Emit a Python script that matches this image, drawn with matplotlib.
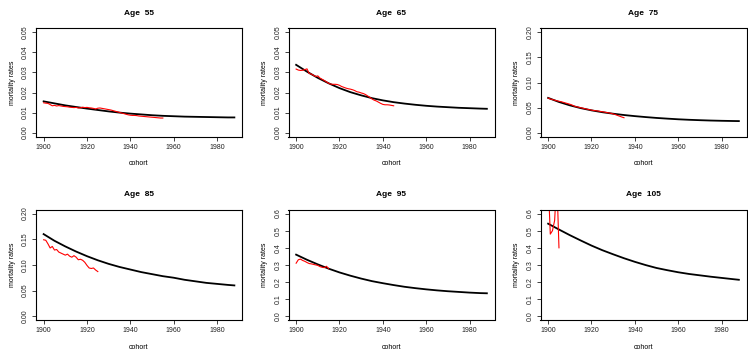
import numpy as np
import matplotlib
matplotlib.use("Agg")
import matplotlib.pyplot as plt

plt.rcParams['font.family'] = ['Liberation Sans', 'DejaVu Sans']

# Datos
ages = [55, 65, 75, 85, 95, 105]

# curva ajustada (negra)
fit_years = [1900, 1905, 1910, 1915, 1920, 1925, 1930, 1935, 1940, 1945,
             1950, 1955, 1960, 1965, 1970, 1975, 1980, 1985, 1988]
fit_55 = [.0156, .0146, .0136, .0128, .0120, .0113, .0106, .0100, .0095, .0091,
          .0087, .0084, .0082, .0080, .0079, .0078, .0077, .0076, .0076]
fit_65 = [.0338, .0304, .0273, .0246, .0222, .0202, .0186, .0172, .0161, .0152,
          .0145, .0139, .0134, .0130, .0127, .0124, .0122, .0120, .0119]
fit_75 = [.0693, .0612, .0545, .0490, .0445, .0408, .0378, .0352, .0330, .0311,
          .0294, .0280, .0267, .0257, .0249, .0242, .0237, .0233, .0231]
fit_85 = [.160, .147, .136, .126, .117, .109, .102, .096, .091, .086,
          .082, .078, .075, .071, .068, .065, .063, .061, .060]
fit_95 = [.360, .330, .303, .278, .256, .237, .220, .205, .193, .182,
          .172, .164, .157, .151, .146, .142, .138, .135, .134]
fit_105 = [.541, .507, .474, .443, .413, .386, .362, .339, .318, .299,
           .282, .269, .257, .247, .239, .231, .224, .217, .213]

# tasas observadas (rojo), una por anio desde 1900
obs_55 = [.0149, .0147, .0146, .0140, .0134, .0136, .0133, .0135, .0133, .0131,
          .0130, .0129, .0127, .0126, .0125, .0126, .0123, .0124, .0127, .0125,
          .0126, .0124, .0123, .0121, .0118, .0122, .0123, .0121, .0119, .0117,
          .0115, .0113, .0110, .0107, .0104, .0101, .0098, .0095, .0092, .0089,
          .0087, .0086, .0086, .0085, .0083, .0082, .0081, .0080, .0079, .0078,
          .0077, .0076, .0075, .0074, .0073, .0073]
obs_65 = [.0317, .0312, .0310, .0311, .0314, .0318, .0295, .0292, .0286, .0280,
          .0283, .0272, .0266, .0260, .0253, .0246, .0242, .0241, .0241, .0240,
          .0236, .0230, .0226, .0222, .0219, .0217, .0214, .0210, .0204, .0202,
          .0198, .0195, .0190, .0183, .0176, .0168, .0162, .0158, .0152, .0146,
          .0141, .0139, .0139, .0138, .0136, .0134]
obs_75 = [.0690, .0672, .0660, .0648, .0636, .0626, .0618, .0605, .0592, .0580,
          .0567, .0552, .0530, .0518, .0508, .0498, .0488, .0478, .0468, .0458,
          .0450, .0442, .0438, .0432, .0424, .0418, .0410, .0402, .0394, .0386,
          .0374, .0360, .0344, .0328, .0312, .0298]
obs_85 = [.149, .148, .141, .133, .136, .129, .130, .125, .123, .121,
          .119, .121, .117, .115, .118, .115, .110, .111, .109, .105,
          .099, .094, .093, .094, .090, .087]
obs_95 = [.310, .330, .334, .326, .321, .314, .308, .306, .303, .300,
          .297, .290, .286, .284, .292, .278]
obs_105 = [.80, .48, .50, .56, .80, .40]

fits = [fit_55, fit_65, fit_75, fit_85, fit_95, fit_105]
obs = [obs_55, obs_65, obs_75, obs_85, obs_95, obs_105]

x_ticks = [1900, 1920, 1940, 1960, 1980]
y_ticks = [[0, .01, .02, .03, .04, .05], [0, .01, .02, .03, .04, .05],
           [0, .05, .10, .15, .20], [0, .05, .10, .15, .20],
           [0, .1, .2, .3, .4, .5, .6], [0, .1, .2, .3, .4, .5, .6]]
y_fmt = ["%.2f", "%.2f", "%.2f", "%.2f", "%.1f", "%.1f"]

W, H = 748, 350
fig = plt.figure(figsize=(W / 100, H / 100), dpi=100)

lefts = [36, 288.5, 540.5]
rows = [(28.3, 136.7), (209.5, 320.3)]
box_w = 206

for i, age in enumerate(ages):
    r, c = divmod(i, 3)
    top, bot = rows[r]
    h = bot - top
    ax = fig.add_axes([lefts[c] / W, 1 - bot / H, box_w / W, h / H])

    ax.plot(fit_years, fits[i], color='black', lw=1.3)
    yrs = np.arange(1900, 1900 + len(obs[i]))
    ax.plot(yrs, obs[i], color='red', lw=0.8)

    # rangos como en R (4% extra)
    ymax = y_ticks[i][-1]
    ax.set_xlim(1896.48, 1991.52)
    ax.set_ylim(-0.04 * ymax, 1.04 * ymax)
    ax.set_xticks(x_ticks)
    ax.set_yticks(y_ticks[i])
    ax.set_yticklabels([y_fmt[i] % v for v in y_ticks[i]], rotation=90, va='center')
    ax.tick_params(length=2.9, width=0.6, pad=2.0, labelsize=5.0, colors='#222222')
    for s in ax.spines.values():
        s.set_linewidth(0.8)

    ax.text(0.5, 1 + 14.8 / h, "Age  %d" % age, transform=ax.transAxes,
            ha='center', va='center', fontsize=6.0, fontweight='bold')
    ax.text(0.5, -27 / h, "cohort", transform=ax.transAxes,
            ha='center', va='center', fontsize=5.0)
    ax.text(-24 / box_w, 0.5, "mortality rates", transform=ax.transAxes,
            ha='center', va='center', rotation=90, fontsize=5.0)

fig.savefig("out.png", dpi=100)
